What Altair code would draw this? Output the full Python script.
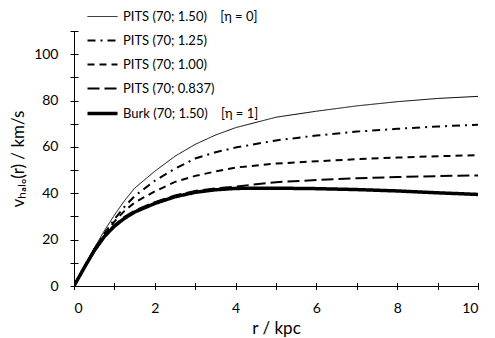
import altair as alt
import pandas as pd

# radius grid (kpc)
r = [0, 0.25, 0.5, 0.75, 1, 1.25, 1.5, 2, 2.5, 3, 3.5, 4, 5, 6, 7, 8, 9, 10]

v_pits_150 = [0, 8.2, 16.3, 23.8, 30.6, 36.8, 42.2, 49.5, 56.0, 61.1, 65.1, 68.3, 72.8, 75.4, 77.7, 79.5, 80.9, 81.8]
v_pits_125 = [0, 8.0, 15.9, 22.6, 28.8, 34.2, 38.8, 45.4, 50.6, 55.0, 57.7, 59.7, 62.8, 64.9, 66.6, 67.8, 68.8, 69.6]
v_pits_100 = [0, 8.0, 15.7, 22.2, 27.8, 32.4, 36.0, 40.8, 44.9, 47.5, 49.4, 51.1, 52.8, 53.8, 54.7, 55.4, 56.0, 56.4]
v_pits_0837 = [0, 7.9, 15.4, 21.6, 26.3, 29.8, 32.5, 36.2, 39.1, 41.0, 42.1, 42.9, 44.8, 45.7, 46.5, 47.0, 47.4, 47.7]
v_burk_150 = [0, 7.8, 15.2, 21.3, 25.8, 29.2, 31.9, 35.6, 38.5, 40.4, 41.5, 42.1, 42.2, 42.0, 41.6, 41.0, 40.2, 39.5]

NB = "\u00a0"
series_names = [
    "PITS (70; 1.50)" + NB * 4 + "[η = 0]",
    "PITS (70; 1.25)",
    "PITS (70; 1.00)",
    "PITS (70; 0.837)",
    "Burk (70; 1.50)" + NB * 4 + "[η = 1]",
]
series_values = [v_pits_150, v_pits_125, v_pits_100, v_pits_0837, v_burk_150]

rows = []
for name, vals in zip(series_names, series_values):
    for ri, vi in zip(r, vals):
        rows.append({"series": name, "r": ri, "v": vi})
df = pd.DataFrame(rows)

dashes = [[1, 0], [8, 5, 2, 5], [7, 5], [12, 5], [1, 0]]

x_scale = alt.Scale(domain=[0, 10], nice=False, zero=False)
y_scale = alt.Scale(domain=[0, 110], nice=False, zero=False)

FONT = "Lato"

legend = alt.Legend(
    title=None,
    orient="none",
    legendX=22,
    legendY=-21,
    symbolType="stroke",
    symbolSize=900,
    symbolStrokeColor="black",
    symbolStrokeWidth=alt.ExprRef(expr="datum.index === 4 ? 3.5 : (datum.index === 0 ? 1 : 2)"),
    labelFont=FONT,
    labelFontSize=13,
    labelColor="black",
    labelOffset=14,
    rowPadding=10,
    padding=0,
    labelLimit=400,
)

lines = alt.Chart(df).mark_line(clip=True).encode(
    x=alt.X(
        "r:Q",
        scale=x_scale,
        axis=alt.Axis(
            orient="bottom",
            values=[0, 2, 4, 6, 8, 10],
            ticks=False,
            grid=False,
            title="r / kpc",
            labelPadding=15,
            titlePadding=5,
        ),
    ),
    y=alt.Y(
        "v:Q",
        scale=y_scale,
        axis=alt.Axis(
            orient="left",
            values=[0, 20, 40, 60, 80, 100],
            ticks=False,
            grid=False,
            title="vₕₐₗₒ(r) / km/s",
            labelPadding=16,
            titlePadding=6,
        ),
    ),
    color=alt.Color(
        "series:N",
        sort=series_names,
        scale=alt.Scale(domain=series_names, range=["black"] * 5),
        legend=legend,
    ),
    strokeDash=alt.StrokeDash(
        "series:N",
        sort=series_names,
        scale=alt.Scale(domain=series_names, range=dashes),
        legend=legend,
    ),
    strokeWidth=alt.StrokeWidthValue(
        value=2,
        condition=[
            {"test": "datum.series === '" + series_names[4] + "'", "value": 3.5},
            {"test": "datum.series === '" + series_names[0] + "'", "value": 1},
        ],
    ),
)

ticks = alt.Chart(df).mark_point(opacity=0, size=1).encode(
    x=alt.X(
        "r:Q",
        scale=x_scale,
        axis=alt.Axis(
            orient="bottom",
            values=list(range(0, 11)),
            domain=False,
            labels=False,
            title=None,
            grid=False,
            ticks=True,
            tickSize=7,
            offset=-3.5,
        ),
    ),
    y=alt.Y(
        "v:Q",
        scale=y_scale,
        axis=alt.Axis(
            orient="left",
            values=list(range(0, 111, 10)),
            domain=False,
            labels=False,
            title=None,
            grid=False,
            ticks=True,
            tickSize=8,
            offset=-4,
        ),
    ),
)

chart = (
    alt.layer(lines, ticks)
    .resolve_axis(x="independent", y="independent")
    .properties(
        width=404,
        height=255,
        autosize=alt.AutoSizeParams(type="none"),
        padding={"left": 66, "top": 23, "right": 9, "bottom": 52},
    )
    .configure_view(stroke=None)
    .configure_axis(
        domainColor="black",
        domainWidth=1,
        tickColor="black",
        tickWidth=1,
        labelFont=FONT,
        labelFontSize=14,
        labelColor="black",
        titleFont=FONT,
        titleFontSize=17,
        titleFontWeight="normal",
        titleColor="black",
    )
)

chart.save("out.html", embed_options={"renderer": "svg", "actions": False})
